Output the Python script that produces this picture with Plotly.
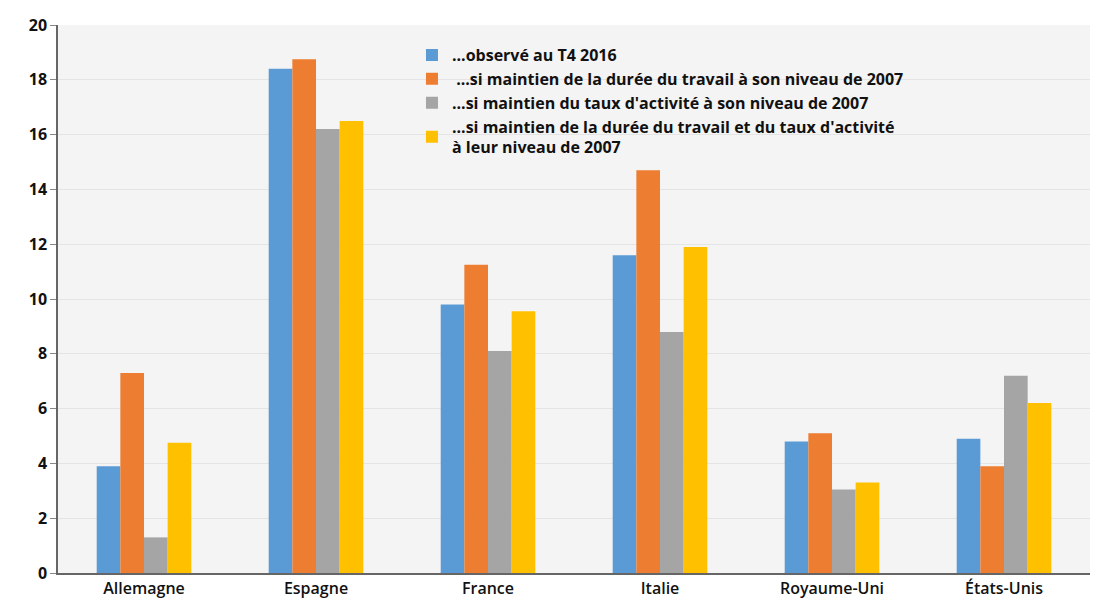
import plotly.graph_objects as go

categories = ["Allemagne", "Espagne", "France", "Italie", "Royaume-Uni", "États-Unis"]
series_names = [
    "...observé au T4 2016",
    " ...si maintien de la durée du travail à son niveau de 2007",
    "...si maintien du taux d'activité à son niveau de 2007",
    "...si maintien de la durée du travail et du taux d'activité<br>à leur niveau de 2007",
]
observe = [3.9, 18.4, 9.8, 11.6, 4.8, 4.9]
duree = [7.3, 18.75, 11.25, 14.7, 5.1, 3.9]
activite = [1.3, 16.2, 8.1, 8.8, 3.05, 7.2]
duree_activite = [4.75, 16.5, 9.55, 11.9, 3.3, 6.2]
colors = ["#5b9bd5", "#ed7d31", "#a5a5a5", "#ffc000"]
y_ticks = [0, 2, 4, 6, 8, 10, 12, 14, 16, 18, 20]

fig = go.Figure()
for name, vals, col in zip(series_names, [observe, duree, activite, duree_activite], colors):
    fig.add_trace(go.Bar(x=categories, y=vals, name=name, marker_color=col,
                         marker_line_width=0))

fig.update_layout(
    width=1094, height=603,
    margin=dict(l=58, r=4, t=25, b=30),
    paper_bgcolor="white",
    plot_bgcolor="#f4f4f4",
    barmode="group",
    bargap=0.45,
    bargroupgap=0,
    font=dict(family="Open Sans", color="#111111"),
    showlegend=True,
    legend=dict(x=0.343, y=0.976, xanchor="left", yanchor="top",
                bgcolor="rgba(0,0,0,0)", font=dict(size=16, color="#111111", weight="bold"),
                tracegroupgap=0, itemwidth=30),
)
fig.update_yaxes(range=[0, 20], tickvals=y_ticks, showgrid=True, gridcolor="#e4e4e4",
                 ticks="outside", ticklen=6, tickcolor="#888888",
                 showline=True, linecolor="#666666", linewidth=1.5,
                 tickfont=dict(size=16, weight="bold", color="#111111"), zeroline=False)
fig.update_xaxes(showline=True, linecolor="#666666", linewidth=1.5, ticks="",
                 tickfont=dict(size=16, color="#111111", weight=600))

fig.write_html("out.html", config={"displayModeBar": False},
               post_script="document.body.style.margin='0';document.body.style.overflow='hidden';")
